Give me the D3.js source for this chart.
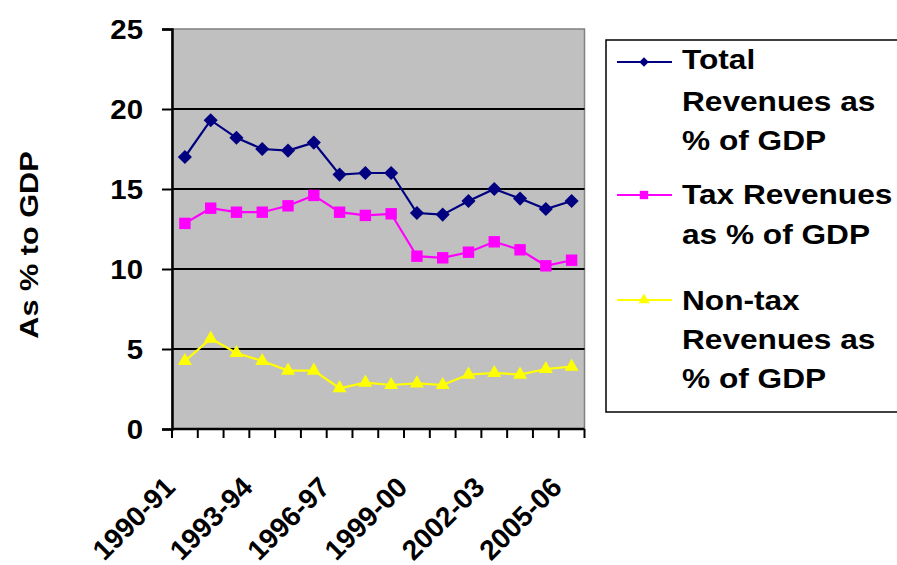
<!DOCTYPE html>
<html>
<head>
<meta charset="utf-8">
<script src="https://cdn.jsdelivr.net/npm/d3@7"></script>
<style>
  body { margin: 0; background: #fff; }
  svg text { font-family: "Liberation Sans", Arial, sans-serif; font-weight: bold; fill: #000; }
</style>
</head>
<body>
<svg id="chart" width="897" height="565"></svg>
<script>
// fiscal years on the x axis
const years = ["1990-91", "1991-92", "1992-93", "1993-94", "1994-95", "1995-96", "1996-97", "1997-98",
  "1998-99", "1999-00", "2000-01", "2001-02", "2002-03", "2003-04", "2004-05", "2005-06"];

// values (% of GDP)
const totalRev = [17.0, 19.3, 18.2, 17.5, 17.4, 17.9, 15.9, 16.0, 16.0, 13.5, 13.4, 14.25, 15.0, 14.4, 13.75, 14.25];
const taxRev = [12.85, 13.8, 13.55, 13.55, 13.95, 14.6, 13.55, 13.35, 13.45, 10.8, 10.7, 11.05, 11.7, 11.2, 10.2, 10.55];
const nonTaxRev = [4.25, 5.65, 4.75, 4.25, 3.65, 3.65, 2.55, 2.9, 2.75, 2.85, 2.75, 3.4, 3.5, 3.4, 3.75, 3.9];

const yTicks = [0, 5, 10, 15, 20, 25];
const labelYears = ["1990-91", "1993-94", "1996-97", "1999-00", "2002-03", "2005-06"];

// square turned 45 degrees, like the spreadsheet diamond
const diamond = {
  draw(ctx, size) {
    const r = Math.sqrt(size / 2);
    ctx.moveTo(0, -r); ctx.lineTo(r, 0); ctx.lineTo(0, r); ctx.lineTo(-r, 0); ctx.closePath();
  }
};

const series = [
  { name: ["Total", "Revenues as", "% of GDP"], values: totalRev, color: "#000080", symbol: diamond, size: 100, lsize: 45, ly: 62 },
  { name: ["Tax Revenues", "as % of GDP"], values: taxRev, color: "#FF00FF", symbol: d3.symbolSquare, size: 130, lsize: 70, ly: 195 },
  { name: ["Non-tax", "Revenues as", "% of GDP"], values: nonTaxRev, color: "#FFFF00", symbol: d3.symbolTriangle, size: 85, lsize: 55, ly: 300 }
];

const svg = d3.select("#chart");
const plotL = 172, plotR = 584.5, plotT = 29, plotB = 429;
const stretch = 1.13; // legend text in the original runs wider than Arial

const x = d3.scaleBand().domain(years).range([plotL, plotR]).padding(0);
const y = d3.scaleLinear().domain([0, 25]).range([plotB, plotT]);

// plot area
svg.append("rect")
  .attr("x", plotL).attr("y", plotT)
  .attr("width", plotR - plotL).attr("height", plotB - plotT)
  .attr("fill", "#C0C0C0")
  .attr("stroke", "#808080").attr("stroke-width", 1.5);

// gridlines
svg.append("g").selectAll("line")
  .data(yTicks.filter(d => d > 0 && d < 25))
  .enter().append("line")
  .attr("x1", plotL).attr("x2", plotR)
  .attr("y1", d => y(d)).attr("y2", d => y(d))
  .attr("stroke", "#000").attr("stroke-width", 2);

// y axis
const yAxis = svg.append("g")
  .attr("transform", `translate(${plotL},0)`)
  .call(d3.axisLeft(y).tickValues(yTicks).tickSize(10).tickFormat(""));
yAxis.select(".domain").attr("stroke", "#000").attr("stroke-width", 2.5);
yAxis.selectAll(".tick line").attr("stroke", "#000").attr("stroke-width", 2);

svg.append("g").selectAll("text")
  .data(yTicks)
  .enter().append("text")
  .attr("transform", d => `translate(143,${y(d)}) scale(1.05,1)`)
  .attr("text-anchor", "end")
  .attr("dy", "0.36em")
  .style("font-size", "28px")
  .text(d => d);

// x axis: baseline and ticks between categories
svg.append("line")
  .attr("x1", plotL).attr("x2", plotR)
  .attr("y1", plotB).attr("y2", plotB)
  .attr("stroke", "#000").attr("stroke-width", 2.5);

const edges = years.map(d => x(d)).concat([x(years[years.length - 1]) + x.bandwidth()]);
svg.append("g").selectAll("line")
  .data(edges)
  .enter().append("line")
  .attr("x1", d => d).attr("x2", d => d)
  .attr("y1", plotB).attr("y2", plotB + 9)
  .attr("stroke", "#000").attr("stroke-width", 2);

svg.append("g").selectAll("text")
  .data(labelYears)
  .enter().append("text")
  .attr("transform", d => `translate(${x(d) + x.bandwidth() / 2 - 8},489) rotate(-45)`)
  .attr("text-anchor", "end")
  .style("font-size", "28px")
  .text(d => d);

// y axis title
svg.append("text")
  .attr("transform", "translate(38,245) rotate(-90) scale(1.18,1)")
  .attr("text-anchor", "middle")
  .style("font-size", "26px")
  .text("As % to GDP");

// lines + markers
const line = d3.line()
  .x((d, i) => x(years[i]) + x.bandwidth() / 2)
  .y(d => y(d));

series.forEach(s => {
  svg.append("path")
    .datum(s.values)
    .attr("fill", "none")
    .attr("stroke", s.color)
    .attr("stroke-width", 2.2)
    .attr("d", line);

  svg.append("g").selectAll("path")
    .data(s.values)
    .enter().append("path")
    .attr("transform", (d, i) => `translate(${x(years[i]) + x.bandwidth() / 2},${y(d)})`)
    .attr("d", d3.symbol().type(s.symbol).size(s.size))
    .attr("fill", s.color);
});

// legend
const lg = svg.append("g");
lg.append("rect")
  .attr("x", 606).attr("y", 40)
  .attr("width", 300).attr("height", 372)
  .attr("fill", "#fff").attr("stroke", "#000").attr("stroke-width", 1.5);

series.forEach(s => {
  lg.append("line")
    .attr("x1", 617).attr("x2", 672)
    .attr("y1", s.ly).attr("y2", s.ly)
    .attr("stroke", s.color).attr("stroke-width", 2);
  lg.append("path")
    .attr("transform", `translate(644,${s.ly})`)
    .attr("d", d3.symbol().type(s.symbol).size(s.lsize))
    .attr("fill", s.color);
});

const legendBase = [[69, 111, 150], [204, 244], [310, 349, 388]];
series.forEach((s, k) => {
  s.name.forEach((t, j) => {
    lg.append("text")
      .attr("transform", `translate(682,${legendBase[k][j]}) scale(${stretch},1)`)
      .style("font-size", "28px")
      .text(t);
  });
});
</script>
</body>
</html>
